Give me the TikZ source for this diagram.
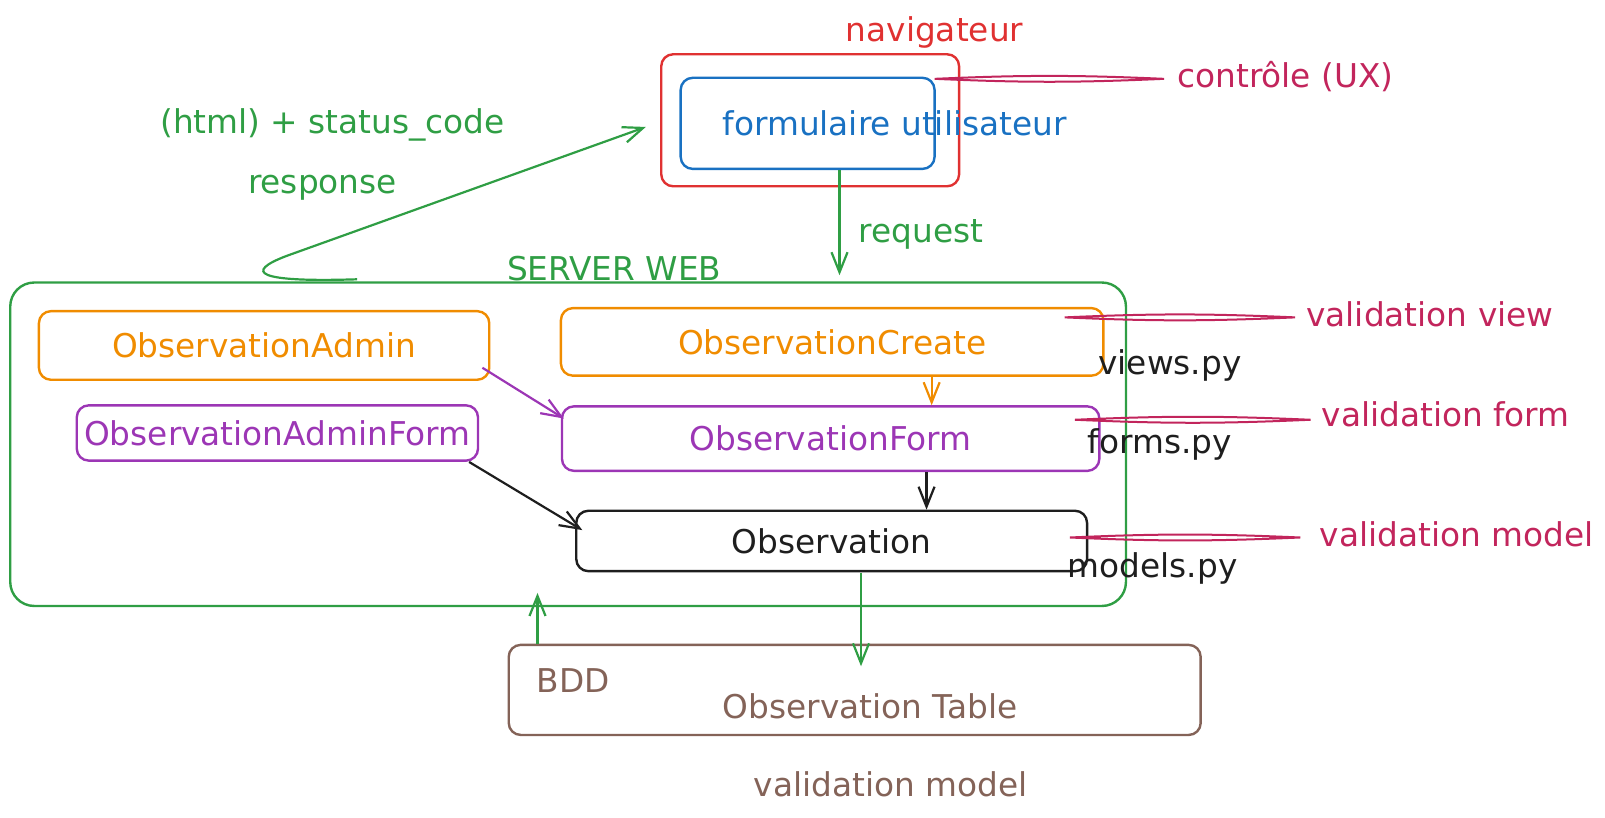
\documentclass[tikz,border=0pt]{standalone}
\usepackage{fontspec}
\setmainfont{DejaVu Sans}
\usetikzlibrary{arrows.meta,positioning,calc}
\definecolor{xgreen}{HTML}{2F9E44}
\definecolor{xred}{HTML}{E03131}
\definecolor{xblue}{HTML}{1971C2}
\definecolor{xorange}{HTML}{F08C00}
\definecolor{xpurple}{HTML}{9C36B5}
\definecolor{xpink}{HTML}{C2255C}
\definecolor{xbrown}{HTML}{846358}
\definecolor{xblack}{HTML}{1E1E1E}
\tikzset{
  box/.style={draw, rectangle, rounded corners=12pt, line width=2.4pt, inner sep=0pt},
  flow/.style={line width=2.2pt, -{Straight Barb[length=20pt,width=16pt,line width=2.2pt]}},
  note/.style={xpink, line width=2pt},
  txt/.style={inner sep=0pt},
}

\begin{document}
\begin{tikzpicture}[x=1pt, y=-1pt, scale=1.0236, transform shape, font=\fontsize{32}{38}\selectfont]
          \useasboundingbox (0,0) rectangle (1568,798.2);
          % navigateur
          \draw node[box, xred, minimum width=291pt, minimum height=129pt] (nav) at (791.5,117.5) {};
          \draw node[box, xblue, minimum width=248pt, minimum height=89pt] (form) at (789,120.5) {};
          \draw node[txt, xblue] (formtxt) at (874,120) {formulaire utilisateur};
          \draw node[txt, xred] (navtxt) at (913,32) {navigateur};
          \draw node[txt, xgreen] (html) at (325,122) {(html) + status\_code};
          \draw node[txt, xgreen] (resp) at (315,183) {response};
          \draw node[txt, xgreen] (req) at (900,229) {request};

          % server web
          \draw node[box, xgreen, rounded corners=24pt, minimum width=1090pt, minimum height=316pt] (srv) at (555,434) {};
          \draw node[txt, xgreen] (srvtxt) at (600,262) {SERVER WEB};
          \draw node[box, xorange, minimum width=440pt, minimum height=67pt] (admin) at (258,337.5) {ObservationAdmin};
          \draw node[box, xorange, minimum width=530pt, minimum height=66pt] (create) at (813,334) {ObservationCreate};
          \draw node[box, xpurple, minimum width=392pt, minimum height=54pt] (adminform) at (271,423) {ObservationAdminForm};
          \draw node[box, xpurple, minimum width=525pt, minimum height=63pt] (oform) at (811.5,428.5) {ObservationForm};
          \draw node[box, xblack, minimum width=499pt, minimum height=59pt] (obs) at (812.5,528.5) {Observation};
          \draw node[txt, xblack] (views) at (1143,357) {views.py};
          \draw node[txt, xblack] (forms) at (1133,434) {forms.py};
          \draw node[txt, xblack] (models) at (1126,555) {models.py};

          % BDD
          \draw node[box, xbrown, minimum width=676pt, minimum height=88pt] (bdd) at (835,674) {};
          \draw node[txt, xbrown] (bddtxt) at (560,665) {BDD};
          \draw node[txt, xbrown] (table) at (850,690) {Observation Table};
          \draw node[txt, xbrown] (valbdd) at (870,766) {validation model};

          % annotations
          \draw node[txt, xpink, anchor=west] (ux) at (1150,75) {contrôle (UX)};
          \draw node[txt, xpink, anchor=west] (valview) at (1276,307) {validation view};
          \draw node[txt, xpink, anchor=west] (valform) at (1291,405) {validation form};
          \draw node[txt, xpink, anchor=west] (valmodel) at (1289,522) {validation model};
          \coordinate (uxa) at (913,77);
          \coordinate (viewa) at (1040,310);
          \coordinate (forma) at (1050,410);
          \coordinate (modela) at (1045,525);
          \draw[note] (uxa) to[bend left=2.5] ($(ux.west)+(-13,2)$) to[bend left=2.5] (uxa);
          \draw[note] (viewa) to[bend left=2.5] ($(valview.west)+(-11,3)$) to[bend left=2.5] (viewa);
          \draw[note] (forma) to[bend left=2.5] ($(valform.west)+(-11,5)$) to[bend left=2.5] (forma);
          \draw[note] (modela) to[bend left=2.5] ($(valmodel.west)+(-19,3)$) to[bend left=2.5] (modela);

          % arrows
          \coordinate (rq) at (820,0);
          \coordinate (cf) at (910,0);
          \coordinate (fo) at (905,0);
          \coordinate (db) at (841,0);
          \coordinate (up) at (525,0);
          \draw[flow, xgreen] ($(srv.north west)+(340,-2)$) .. controls (250,276) and (238,266) .. (280,250) -- ($(nav.west)+(-14,6.5)$);
          \draw (form.south -| rq) edge[flow, xgreen] ($(srv.north -| rq)+(0,-6)$);
          \draw (create.south -| cf) edge[flow, xorange] (oform.north -| cf);
          \draw ($(admin.south east)+(-8,-13)$) edge[flow, xpurple] ($(oform.north west)+(3,13)$);
          \draw ($(adminform.south east)+(-10,0)$) edge[flow, xblack] ($(obs.north west)+(7,20)$);
          \draw (oform.south -| fo) edge[flow, xblack] (obs.north -| fo);
          \draw (obs.south -| db) edge[flow, xgreen] ($(bdd.north -| db)+(0,22)$);
          \draw (bdd.north -| up) edge[flow, xgreen] ($(srv.south -| up)+(0,-14)$);
      \end{tikzpicture}
\end{document}
